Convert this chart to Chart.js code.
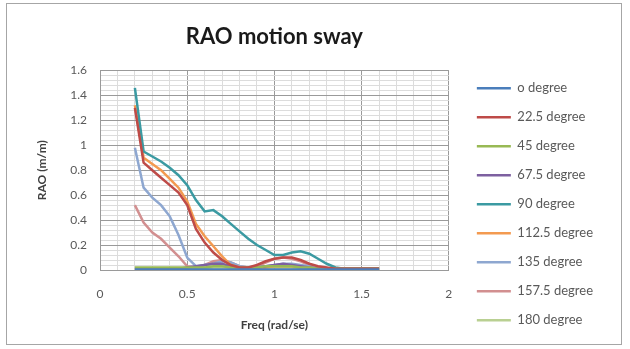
<!DOCTYPE html>
<html>
<head>
<meta charset="utf-8">
<script src="https://cdn.jsdelivr.net/npm/chart.js@4/dist/chart.umd.min.js"></script>
<style>
  body { margin: 0; background: #fff; }
  #box { position: absolute; left: 6px; top: 3px; width: 614px; height: 340px; border: 1px solid #a6a6a6; }
</style>
</head>
<body>
<div id="box"><canvas id="rao"></canvas></div>
<script>
// frequency (rad/s)
var freq = [0.2,0.25,0.3,0.35,0.4,0.45,0.5,0.55,0.6,0.65,0.7,0.75,0.8,0.85,0.9,0.95,1.0,1.05,1.1,1.15,1.2,1.25,1.3,1.35,1.4,1.45,1.5,1.55,1.6];

var deg0    = [0.005,0.005,0.005,0.005,0.005,0.005,0.005,0.005,0.005,0.005,0.005,0.005,0.005,0.005,0.005,0.005,0.005,0.005,0.005,0.005,0.005,0.005,0.005,0.005,0.005,0.005,0.005,0.005,0.005];
var deg22_5 = [1.30,0.86,0.80,0.74,0.68,0.62,0.52,0.33,0.22,0.14,0.08,0.04,0.02,0.02,0.04,0.07,0.09,0.10,0.10,0.08,0.05,0.03,0.02,0.01,0.01,0.01,0.01,0.01,0.01];
var deg45   = [0.02,0.02,0.02,0.02,0.02,0.02,0.02,0.02,0.02,0.03,0.03,0.02,0.02,0.02,0.02,0.03,0.03,0.03,0.03,0.02,0.02,0.01,0.01,0.01,0.01,0.01,0.01,0.01,0.01];
var deg67_5 = [0.01,0.01,0.01,0.01,0.01,0.01,0.02,0.03,0.04,0.05,0.05,0.03,0.02,0.02,0.02,0.03,0.04,0.05,0.04,0.03,0.02,0.01,0.01,0.01,0.01,0.01,0.01,0.01,0.01];
var deg90   = [1.46,0.95,0.91,0.87,0.82,0.76,0.68,0.56,0.47,0.48,0.43,0.37,0.31,0.25,0.20,0.16,0.12,0.12,0.14,0.15,0.13,0.09,0.05,0.02,0.01,0.01,0.01,0.01,0.01];
var deg112_5= [1.32,0.90,0.85,0.80,0.73,0.66,0.55,0.37,0.27,0.19,0.11,0.04,0.02,0.01,0.01,0.02,0.03,0.03,0.03,0.02,0.02,0.01,0.01,0.01,0.01,0.01,0.01,0.01,0.01];
var deg135  = [0.98,0.66,0.58,0.52,0.43,0.28,0.10,0.03,0.04,0.05,0.07,0.06,0.03,0.02,0.02,0.03,0.04,0.05,0.05,0.04,0.03,0.02,0.01,0.01,0.01,0.01,0.01,0.01,0.01];
var deg157_5= [0.52,0.38,0.30,0.25,0.18,0.11,0.03,0.02,0.04,0.07,0.08,0.06,0.03,0.02,0.03,0.06,0.09,0.10,0.09,0.07,0.04,0.02,0.01,0.01,0.01,0.01,0.01,0.01,0.01];
var deg180  = [0.01,0.01,0.01,0.01,0.01,0.01,0.01,0.01,0.01,0.02,0.02,0.02,0.01,0.01,0.01,0.02,0.02,0.02,0.02,0.01,0.01,0.01,0.01,0.01,0.01,0.01,0.01,0.01,0.01];

var names  = ['o degree','22.5 degree','45 degree','67.5 degree','90 degree','112.5 degree','135 degree','157.5 degree','180 degree'];
var series = [deg0,deg22_5,deg45,deg67_5,deg90,deg112_5,deg135,deg157_5,deg180];
var colors = ['#4a7ebb','#be4b48','#98b954','#7d60a0','#3b9aa2','#f39a50','#8ea7d0','#d28f90','#b9d092'];

var sets = [];
for (var i = 0; i < series.length; i++) {
	sets.push({
		label: names[i],
		data: freq.map(function(f, k){ return {x: f, y: series[i][k]}; }),
		borderColor: colors[i],
		backgroundColor: colors[i],
		borderWidth: 2.5,
		pointRadius: 0,
		pointStyle: 'line',
		showLine: true,
		tension: 0
	});
}

function isMajor(v, step) { return Math.abs(Math.round(v / step) * step - v) < 1e-6; }

new Chart(document.getElementById('rao'), {
	type: 'scatter',
	data: { datasets: sets },
	options: {
		responsive: true,
		maintainAspectRatio: false,
		animation: false,
		layout: { padding: { right: 18 } },
		plugins: {
			title: {
				display: true,
				text: 'RAO motion sway',
				fullSize: false,
				color: '#1a1a1a',
				font: { family: 'Lato', size: 22, weight: 'bold' },
				padding: { top: 20, bottom: 20 }
			},
			legend: {
				position: 'right',
				align: 'center',
				maxWidth: 220,
				title: { display: true, text: ' ', font: { size: 12 }, padding: { top: 46, bottom: 0 } },
				labels: {
					usePointStyle: true,
					pointStyleWidth: 34,
					padding: 16,
					color: '#595959',
					font: { family: 'Lato', size: 13 }
				}
			},
			tooltip: { enabled: false }
		},
		scales: {
			x: {
				type: 'linear',
				min: 0, max: 2,
				afterFit: function(s){ s.height = 74; },
				ticks: {
					stepSize: 0.1, autoSkip: false, maxRotation: 0, padding: 17,
					color: '#595959', font: { family: 'Lato', size: 12 },
					callback: function(v){ return isMajor(v, 0.5) ? String(Math.round(v * 10) / 10) : ''; }
				},
				grid: {
					drawTicks: false,
					color: function(c){ return isMajor(c.tick.value, 0.5) ? '#9a9a9a' : '#dcdcdc'; }
				},
				border: { color: '#9a9a9a' },
				title: { display: true, text: 'Freq (rad/se)', color: '#404040', font: { family: 'Lato', size: 12, weight: 'bold' }, padding: { top: 0, bottom: 12 } }
			},
			y: {
				min: 0, max: 1.6,
				afterFit: function(s){ s.width = 93; },
				ticks: {
					stepSize: 0.04, autoSkip: false, padding: 13,
					color: '#595959', font: { family: 'Lato', size: 12 },
					callback: function(v){ return isMajor(v, 0.2) ? String(Math.round(v * 10) / 10) : ''; }
				},
				grid: {
					drawTicks: false,
					color: function(c){ return isMajor(c.tick.value, 0.2) ? '#9a9a9a' : '#dcdcdc'; }
				},
				border: { color: '#9a9a9a' },
				title: { display: true, text: 'RAO (m/m)', color: '#404040', font: { family: 'Lato', size: 12, weight: 'bold' }, padding: { top: 28, bottom: 0 } }
			},
			gap: {
				type: 'linear',
				position: 'right',
				display: true,
				afterFit: function(s){ s.width = 12; },
				grid: { display: false, drawTicks: false },
				border: { display: false },
				ticks: { display: false }
			}
		}
	}
});
</script>
</body>
</html>
